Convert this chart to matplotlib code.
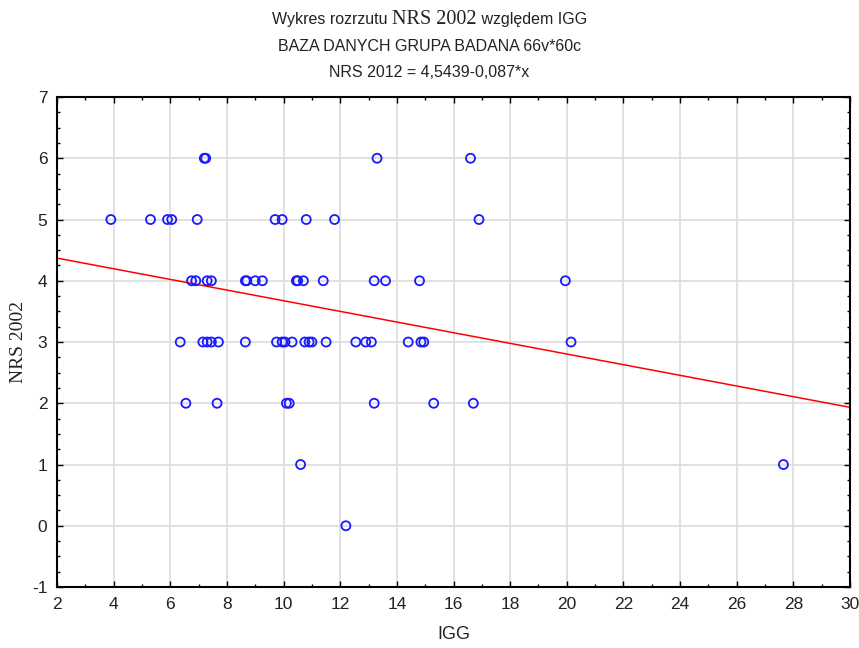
import matplotlib
matplotlib.use("Agg")
import matplotlib.pyplot as plt
import numpy as np
from matplotlib.ticker import MultipleLocator

plt.rcParams['axes.unicode_minus'] = False

# Data (IGG, NRS 2002)
igg_y6 = [7.2, 7.25, 13.3, 16.6]
igg_y5 = [3.9, 5.3, 5.9, 6.05, 6.95, 9.7, 9.95, 10.8, 11.8, 16.9]
igg_y4 = [6.75, 6.9, 7.3, 7.45, 8.65, 8.7, 9.0, 9.25, 10.45, 10.5, 10.7, 11.4,
          13.2, 13.6, 14.8, 19.95]
igg_y3 = [6.35, 7.15, 7.3, 7.45, 7.7, 8.65, 9.75, 9.95, 10.05, 10.3, 10.75, 10.9,
          11.0, 11.5, 12.55, 12.9, 13.1, 14.4, 14.85, 14.95, 20.15]
igg_y2 = [6.55, 7.65, 10.1, 10.2, 13.2, 15.3, 16.7]
igg_y1 = [10.6, 27.65]
igg_y0 = [12.2]

nrs_levels = [6, 5, 4, 3, 2, 1, 0]
igg_groups = [igg_y6, igg_y5, igg_y4, igg_y3, igg_y2, igg_y1, igg_y0]

intercept = 4.5439
slope = -0.087

title2 = "BAZA DANYCH GRUPA BADANA 66v*60c"
title3 = "NRS 2012 = 4,5439-0,087*x"
xlabel = "IGG"
ylabel = "NRS 2002"

x_vals = np.concatenate([np.array(g, dtype=float) for g in igg_groups])
y_vals = np.concatenate([np.full(len(g), lv, dtype=float) for g, lv in zip(igg_groups, nrs_levels)])

sans = ['Liberation Sans Narrow', 'Liberation Sans', 'DejaVu Sans']
serif = ['Liberation Serif', 'DejaVu Serif']

fig = plt.figure(figsize=(8.59, 6.48), dpi=100)
ax = fig.add_axes([0.0664, 0.0941, 0.9895 - 0.0664, 0.8503 - 0.0941])

ax.set_xlim(2, 30)
ax.set_ylim(-1, 7)
ax.xaxis.set_major_locator(MultipleLocator(2))
ax.xaxis.set_minor_locator(MultipleLocator(1))
ax.yaxis.set_major_locator(MultipleLocator(1))
ax.yaxis.set_minor_locator(MultipleLocator(0.25))
ax.grid(True, which='major', color='#dcdcdc', linewidth=1.2, zorder=0)
ax.set_axisbelow(True)
ax.tick_params(which='both', direction='in', top=True, right=True, color='black')
ax.tick_params(which='major', length=4, width=1, labelsize=12.5, pad=7)
ax.tick_params(which='minor', length=2.5, width=1)
for lab in ax.get_xticklabels() + ax.get_yticklabels():
    lab.set_family(sans)
    lab.set_color('#222222')
for sp in ax.spines.values():
    sp.set_linewidth(1.5)
    sp.set_color('black')

# regression line
xl = np.array(ax.get_xlim())
ax.plot(xl, intercept + slope * xl, color='#ff0000', linewidth=1.1, zorder=2)

ax.scatter(x_vals, y_vals, s=42, facecolors='none', edgecolors='#1a1aff',
           linewidths=1.3, zorder=3)

ax.set_xlabel(xlabel, family=sans, fontsize=13, color='#222222', va='center')
ax.xaxis.set_label_coords(0.5, -0.097)
ax.set_ylabel(ylabel, family=serif, fontsize=14, color='#222222')
ax.yaxis.set_label_coords(-0.038, 0.5)

# Title (mixed fonts in first line)
fig.canvas.draw()
r = fig.canvas.get_renderer()
parts = [("Wykres rozrzutu ", sans, 11.5), ("NRS 2002", serif, 14.5), (" względem IGG", sans, 11.5)]
texts = []
widths = []
for s, fam, fs in parts:
    t = fig.text(0, 1 - 24 / 648, s, family=fam, fontsize=fs, va='baseline', ha='left', color='#222222')
    widths.append(t.get_window_extent(r).width)
    texts.append(t)
total = sum(widths)
x0 = (859 * 0.5 - total / 2)
for t, w in zip(texts, widths):
    t.set_x(x0 / 859)
    x0 += w
fig.text(0.5, 1 - 51 / 648, title2, family=sans, fontsize=11.5, ha='center', va='baseline', color='#222222')
fig.text(0.5, 1 - 77 / 648, title3, family=sans, fontsize=11.5, ha='center', va='baseline', color='#222222')

fig.savefig("out.png", dpi=100)
